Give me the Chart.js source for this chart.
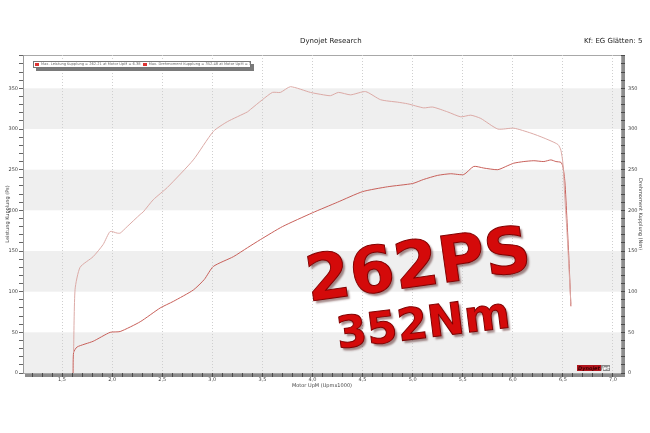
<!DOCTYPE html>
<html>
<head>
<meta charset="utf-8">
<script src="https://cdn.jsdelivr.net/npm/chart.js@4.4.1/dist/chart.umd.min.js"></script>
<style>
  html, body { margin: 0; padding: 0; background: #fff; }
  #wrap { position: relative; width: 650px; height: 433px; overflow: hidden; font-family: "DejaVu Sans", sans-serif; }
  #wrap canvas { position: absolute; left: 0; top: 0; }
  .hdr { position: absolute; top: 37px; font-size: 7px; color: #222; white-space: nowrap; }
  #legend { position: absolute; left: 33px; top: 61px; width: 216px; height: 5px; background: #fff;
            border: 1px solid #777; box-shadow: 3px 3px 0 #7a7a7a; font-size: 3.6px; line-height: 5px;
            color: #666; white-space: nowrap; overflow: hidden; }
  #legend i { display: inline-block; width: 4px; height: 3px; background: #d33; margin: 0 2px 0 1px; vertical-align: middle; }
  .big { position: absolute; font-weight: bold; color: #d40a0a; line-height: 1; white-space: nowrap;
         -webkit-text-stroke: 1px #800000; text-shadow: 2px 3px 2px rgba(60,0,0,0.45);
         font-family: "DejaVu Sans", sans-serif; }
  #logo { position: absolute; left: 577px; top: 365px; height: 6px; font-size: 5px; line-height: 6px;
          font-style: italic; font-weight: bold; white-space: nowrap; }
  #logo span { display: inline-block; padding: 0 1px; }
</style>
</head>
<body>
<div id="wrap">
  <canvas id="dyno" width="650" height="433"></canvas>
  <div class="hdr" style="left:300px">Dynojet Research</div>
  <div class="hdr" style="left:584px">Kf: EG Glätten: 5</div>
  <div id="legend"><i></i>Max. Leistung Kupplung = 262.21 at Motor UpM = 6.38 <i></i>Max. Drehmoment Kupplung = 352.48 at Motor UpM = 3.78</div>
  <div class="big" style="left:418px;top:264px;font-size:64px;transform:translate(-50%,-50%) rotate(-8deg)">262PS</div>
  <div class="big" style="left:423px;top:323px;font-size:44px;transform:translate(-50%,-50%) rotate(-7deg)">352Nm</div>
  <div id="logo"><span style="background:#b0141c;color:#3a0000">Dynojet</span><span style="background:#8a8a8a;color:#fff">jet</span></div>
</div>
<script>
/* --------------- curve data (Upm x1000 / PS / Nm) --------------- */
var powerRpm = [1.61, 1.615, 1.65, 1.81, 1.98, 2.08, 2.28, 2.48, 2.61, 2.81, 2.92, 3.01, 3.21, 3.35, 3.48, 3.7, 4.0, 4.25, 4.5, 4.75, 5.0, 5.11, 5.25, 5.38, 5.51, 5.61, 5.71, 5.85, 5.95, 6.01, 6.11, 6.21, 6.31, 6.38, 6.43, 6.48, 6.5, 6.52, 6.54, 6.56, 6.58];
var powerPs  = [0, 25, 32, 39, 50, 51, 63, 80, 88, 102, 115, 131, 143, 154, 164, 180, 197, 210, 223, 229, 233, 238, 243, 245, 244, 254, 252, 250, 255, 258, 260, 261, 260, 262, 260, 259, 254, 235, 190, 140, 82];

var torqueRpm = [1.615, 1.63, 1.68, 1.81, 1.91, 1.98, 2.05, 2.08, 2.15, 2.28, 2.31, 2.41, 2.55, 2.81, 3.01, 3.15, 3.35, 3.38, 3.5, 3.6, 3.68, 3.78, 3.98, 4.11, 4.18, 4.26, 4.38, 4.53, 4.68, 4.85, 4.95, 5.11, 5.2, 5.35, 5.48, 5.58, 5.68, 5.85, 6.01, 6.18, 6.31, 6.45, 6.48, 6.5, 6.52, 6.54, 6.56, 6.58];
var torqueNm  = [25, 103, 130, 143, 158, 174, 172, 172, 180, 195, 198, 213, 228, 262, 297, 309, 321, 324, 336, 345, 345, 352, 345, 342, 341, 345, 342, 346, 336, 333, 331, 326, 327, 321, 315, 317, 313, 300, 301, 295, 289, 281, 274, 258, 215, 175, 130, 85];

/* --------------- axes --------------- */
var xMin = 1.11, xMax = 7.08;
var yMin = 0, yMax = 391;
var xMinorStep = 0.1, xLabelStep = 0.5;
var yMinorStep = 10, yLabelStep = 50;
var bandRanges = [[0, 50], [100, 150], [200, 250], [300, 350]];

var powerColor = "#c8605a";
var torqueColor = "#dcaaa6";

function toXY(xs, ys) {
  var out = [];
  for (let i = 0; i < xs.length; i++) out.push({ x: xs[i], y: ys[i] });
  return out;
}

function isMajor(v, step) {
  var r = v / step;
  return Math.abs(r - Math.round(r)) < 1e-6;
}

function xTicks(scale) {
  var t = [];
  for (let i = 12; i <= 70; i++) t.push({ value: i / 10 });
  scale.ticks = t;
}
function yTicks(scale) {
  var t = [];
  for (let v = 0; v <= 390; v += yMinorStep) t.push({ value: v });
  scale.ticks = t;
}

var tickFont = { family: "DejaVu Sans", size: 5 };
var titleFont = { family: "DejaVu Sans", size: 5 };

/* background bands + heavy axis bars */
var dynoBack = {
  id: "dynoBack",
  beforeDraw(chart) {
    var ctx = chart.ctx, a = chart.chartArea, y = chart.scales.y;
    ctx.save();
    ctx.fillStyle = "#efefef";
    for (let b of bandRanges) {
      var top = y.getPixelForValue(b[1]), bot = y.getPixelForValue(b[0]);
      ctx.fillRect(a.left, top, a.right - a.left, bot - top);
    }
    ctx.fillStyle = "#8c8c8c";
    ctx.fillRect(a.left + 2, a.bottom, a.right - a.left + 2, 4);
    ctx.fillRect(a.right, a.top, 4, a.bottom - a.top + 4);
    ctx.strokeStyle = "#a8a8a8";
    ctx.lineWidth = 1;
    ctx.strokeRect(a.left + 0.5, a.top + 0.5, a.right - a.left, a.bottom - a.top);
    ctx.restore();
  }
};

let dynoChart = new Chart(document.getElementById("dyno"), {
  type: "line",
  plugins: [dynoBack],
  data: {
    datasets: [
      {
        label: "Drehmoment Kupplung",
        data: toXY(torqueRpm, torqueNm),
        borderColor: torqueColor,
        borderWidth: 1,
        pointRadius: 0,
        tension: 0.2,
        yAxisID: "y"
      },
      {
        label: "Leistung Kupplung",
        data: toXY(powerRpm, powerPs),
        borderColor: powerColor,
        borderWidth: 1,
        pointRadius: 0,
        tension: 0.2,
        yAxisID: "y"
      }
    ]
  },
  options: {
    responsive: false,
    animation: false,
    layout: { padding: { left: 0, right: 0, top: 55, bottom: 40 } },
    plugins: {
      legend: { display: false },
      tooltip: { enabled: false },
      title: { display: false }
    },
    scales: {
      x: {
        type: "linear",
        min: xMin,
        max: xMax,
        afterBuildTicks: xTicks,
        afterFit: (s) => { s.height = 20; },
        ticks: {
          autoSkip: false,
          maxRotation: 0,
          padding: 0,
          font: tickFont,
          color: "#444",
          callback: (v) => isMajor(v, xLabelStep) ? v.toFixed(1).replace(".", ",") : ""
        },
        grid: {
          drawOnChartArea: true,
          tickLength: 4,
          color: (c) => (c.tick && isMajor(c.tick.value, xLabelStep)) ? "#cfcfcf" : "rgba(0,0,0,0)",
          tickColor: "#4a4a4a"
        },
        border: { display: false, dash: [1, 2] },
        title: { display: true, text: "Motor UpM (Upmx1000)", font: titleFont, color: "#444", padding: { top: 0, bottom: 4 } }
      },
      y: {
        position: "left",
        min: yMin,
        max: yMax,
        afterBuildTicks: yTicks,
        afterFit: (s) => { s.width = 23; },
        ticks: {
          autoSkip: false,
          padding: 1,
          font: tickFont,
          color: "#444",
          callback: (v) => isMajor(v, yLabelStep) ? v : ""
        },
        grid: { drawOnChartArea: false, tickLength: 4, tickColor: "#666" },
        border: { display: true, color: "#9a9a9a", width: 1 },
        title: { display: true, text: "Leistung Kupplung (Ps)", font: titleFont, color: "#444", padding: { top: 5, bottom: 2 } }
      },
      y2: {
        position: "right",
        min: yMin,
        max: yMax,
        afterBuildTicks: yTicks,
        afterFit: (s) => { s.width = 29; },
        ticks: {
          autoSkip: false,
          padding: 3,
          font: tickFont,
          color: "#444",
          callback: (v) => isMajor(v, yLabelStep) ? v : ""
        },
        grid: { drawOnChartArea: false, tickLength: 4, tickColor: "#4a4a4a" },
        border: { display: false },
        title: { display: true, text: "Drehmoment Kupplung (Nm)", font: titleFont, color: "#444", padding: { top: 7, bottom: 2 } }
      }
    }
  }
});
</script>
</body>
</html>
